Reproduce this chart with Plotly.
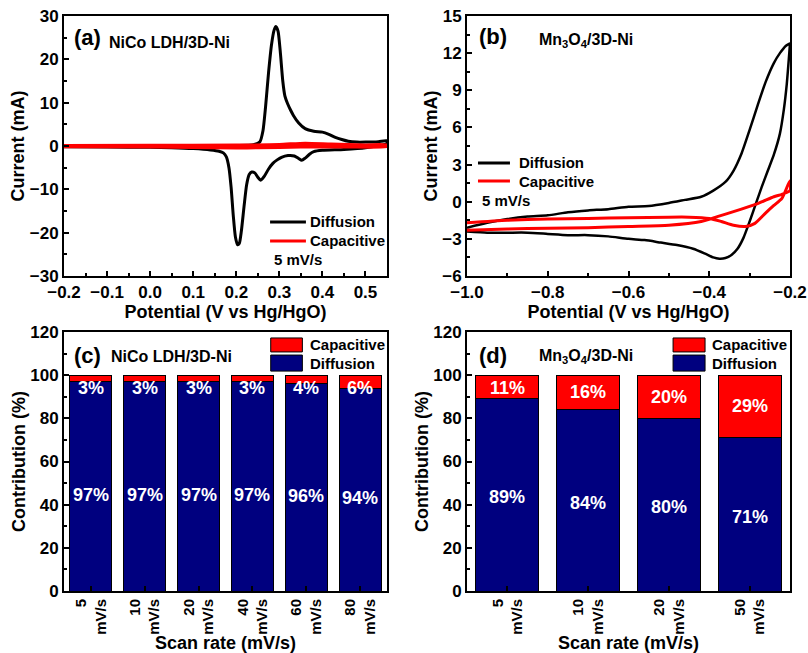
import plotly.graph_objects as go

# ---------------- data ----------------
# (a) NiCo LDH/3D-Ni, 5 mV/s
a_diff_E = [-0.20, -0.10, 0.00, 0.10, 0.20, 0.24, 0.255, 0.262, 0.268, 0.275, 0.282, 0.288, 0.292, 0.297,
            0.302, 0.308, 0.313, 0.319, 0.326, 0.333, 0.345, 0.36, 0.38, 0.40, 0.415, 0.43, 0.445, 0.46,
            0.48, 0.50, 0.53, 0.55,
            0.55, 0.50, 0.45, 0.40, 0.38, 0.37, 0.36, 0.352, 0.345, 0.335, 0.32, 0.305, 0.295, 0.285,
            0.275, 0.265, 0.257, 0.25, 0.243, 0.236, 0.23, 0.224, 0.218, 0.212, 0.207, 0.203, 0.198,
            0.193, 0.188, 0.183, 0.177, 0.17, 0.16, 0.14, 0.10, 0.05, 0.0, -0.1, -0.2]
a_diff_I = [-0.1, -0.1, -0.1, 0.0, 0.1, 0.3, 1.0, 3.5, 9.0, 17.0, 23.5, 26.8, 27.6, 26.5,
            22.0, 15.0, 11.5, 9.8, 8.3, 7.0, 5.3, 4.0, 3.4, 3.2, 2.7, 2.0, 1.5, 1.1,
            0.9, 0.9, 1.0, 1.2,
            0.6, -0.4, -0.8, -1.0, -1.3, -1.9, -2.8, -3.3, -2.9, -2.3, -2.2, -2.6, -3.2, -4.0,
            -5.3, -7.0, -7.9, -7.2, -6.2, -6.0, -6.6, -9.0, -14.0, -19.5, -22.5, -22.8, -21.0,
            -16.0, -9.5, -5.0, -2.5, -1.6, -1.2, -0.9, -0.6, -0.4, -0.3, -0.25, -0.2]
a_cap_E = [-0.2, 0.0, 0.2, 0.3, 0.36, 0.42, 0.5, 0.55,
           0.55, 0.45, 0.35, 0.25, 0.2, 0.1, 0.0, -0.2]
a_cap_I = [0.05, 0.1, 0.15, 0.3, 0.6, 0.4, 0.2, 0.2,
           -0.1, -0.15, -0.2, -0.35, -0.4, -0.3, -0.2, -0.1]

# (b) Mn3O4/3D-Ni, 5 mV/s
b_diff_E = [-1.0, -0.95, -0.9, -0.85, -0.8, -0.75, -0.7, -0.65, -0.6, -0.55, -0.5, -0.46, -0.42,
            -0.39, -0.36, -0.34, -0.32, -0.3, -0.28, -0.26, -0.24, -0.225, -0.21, -0.2,
            -0.2, -0.203, -0.208, -0.215, -0.225, -0.24, -0.255, -0.27, -0.285, -0.3, -0.315,
            -0.33, -0.345, -0.36, -0.375, -0.39, -0.41, -0.44, -0.48, -0.52, -0.56, -0.6, -0.65,
            -0.7, -0.75, -0.8, -0.85, -0.9, -0.95, -1.0]
b_diff_I = [-2.1, -1.7, -1.4, -1.2, -1.1, -0.85, -0.7, -0.6, -0.4, -0.35, -0.1, 0.15, 0.4,
            0.9, 1.6, 2.5, 3.9, 5.8, 7.8, 9.7, 11.2, 12.0, 12.6, 12.8,
            12.8, 11.5, 9.5, 7.5, 5.5, 3.8, 2.5, 1.2, -0.2, -1.6, -2.9,
            -3.8, -4.3, -4.55, -4.6, -4.5, -4.2, -3.8, -3.5, -3.3, -3.1, -3.0, -2.8,
            -2.7, -2.7, -2.6, -2.5, -2.5, -2.5, -2.4]
b_cap_E = [-1.0, -0.9, -0.8, -0.7, -0.6, -0.5, -0.45, -0.4, -0.37, -0.34, -0.31, -0.287, -0.26,
           -0.24, -0.22, -0.2,
           -0.2, -0.22, -0.24, -0.28, -0.34, -0.38, -0.42, -0.5, -0.6, -0.7, -0.8, -0.9, -1.0]
b_cap_I = [-1.7, -1.5, -1.4, -1.35, -1.3, -1.25, -1.25, -1.35, -1.6, -1.9, -2.0, -1.75, -0.9,
           -0.3, 0.27, 1.7,
           0.9, 0.6, 0.4, -0.15, -0.8, -1.2, -1.6, -1.9, -2.0, -2.1, -2.15, -2.2, -2.3]

# (c) NiCo LDH/3D-Ni contributions
c_rates = ["5<br>mV/s", "10<br>mV/s", "20<br>mV/s", "40<br>mV/s", "60<br>mV/s", "80<br>mV/s"]
c_diff = [97, 97, 97, 97, 96, 94]
c_cap = [3, 3, 3, 3, 4, 6]

# (d) Mn3O4/3D-Ni contributions
d_rates = ["5<br>mV/s", "10<br>mV/s", "20<br>mV/s", "50<br>mV/s"]
d_diff = [89, 84, 80, 71]
d_cap = [11, 16, 20, 29]

# ---------------- styles ----------------
FONT = "Liberation Sans, Arial, sans-serif"
NAVY = "#00007F"
RED = "#FF0000"

fig = go.Figure()

fig.add_trace(go.Scatter(x=a_diff_E, y=a_diff_I, mode="lines", name="Diffusion",
                         line=dict(color="black", width=3, shape="spline", smoothing=0.6),
                         xaxis="x", yaxis="y", showlegend=False))
fig.add_trace(go.Scatter(x=a_cap_E, y=a_cap_I, mode="lines", name="Capacitive",
                         line=dict(color=RED, width=3.5, shape="spline", smoothing=0.6),
                         xaxis="x", yaxis="y", showlegend=False))
fig.add_trace(go.Scatter(x=b_diff_E, y=b_diff_I, mode="lines", name="Diffusion",
                         line=dict(color="black", width=2.5, shape="spline", smoothing=0.6),
                         xaxis="x2", yaxis="y2", showlegend=False))
fig.add_trace(go.Scatter(x=b_cap_E, y=b_cap_I, mode="lines", name="Capacitive",
                         line=dict(color=RED, width=3, shape="spline", smoothing=0.6),
                         xaxis="x2", yaxis="y2", showlegend=False))

for rates, diff, cap, xa, ya in [(c_rates, c_diff, c_cap, "x3", "y3"),
                                 (d_rates, d_diff, d_cap, "x4", "y4")]:
    fig.add_trace(go.Bar(x=rates, y=diff, name="Diffusion", marker=dict(color=NAVY, line=dict(color="black", width=1)),
                         width=0.78, xaxis=xa, yaxis=ya, showlegend=False))
    fig.add_trace(go.Bar(x=rates, y=cap, name="Capacitive", marker=dict(color=RED, line=dict(color="black", width=1)),
                         width=0.78, xaxis=xa, yaxis=ya, showlegend=False))

# geometry
XA = [64 / 808, 387 / 808]
XB = [467 / 808, 790 / 808]
YT = [1 - 276 / 653, 1 - 16 / 653]
YB = [1 - 591 / 653, 1 - 332 / 653]

tickfont = dict(family=FONT, size=17, color="black", weight="bold")
titlefont = dict(family=FONT, size=18, color="black", weight="bold")


def ax(**kw):
    base = dict(showline=True, mirror=True, linewidth=2, linecolor="black", ticks="inside",
                ticklen=5, tickwidth=1.5, tickcolor="black", showgrid=False, zeroline=False,
                tickfont=tickfont, automargin=False)
    base.update(kw)
    return base


fig.update_layout(
    width=808, height=653, margin=dict(l=0, r=0, t=0, b=0, autoexpand=False),
    paper_bgcolor="white", plot_bgcolor="white", barmode="stack", showlegend=False,
    font=dict(family=FONT, color="black"),
    xaxis=ax(domain=XA, anchor="y", range=[-0.2, 0.55], tick0=-0.2, dtick=0.1, tickformat=".1f",
             minor=dict(dtick=0.05, ticks="inside", ticklen=3, tickcolor="black"),
             title=dict(text="Potential (V vs Hg/HgO)", font=titlefont, standoff=2)),
    yaxis=ax(domain=YT, anchor="x", range=[-30, 30], dtick=10,
             minor=dict(dtick=5, ticks="inside", ticklen=3, tickcolor="black"),
             title=dict(text="Current (mA)", font=titlefont, standoff=0)),
    xaxis2=ax(domain=XB, anchor="y2", range=[-1.0, -0.2], tick0=-1.0, dtick=0.2, tickformat=".1f",
              minor=dict(dtick=0.1, ticks="inside", ticklen=3, tickcolor="black"),
              title=dict(text="Potential (V vs Hg/HgO)", font=titlefont, standoff=2)),
    yaxis2=ax(domain=YT, anchor="x2", range=[-6, 15], dtick=3,
              minor=dict(dtick=1.5, ticks="inside", ticklen=3, tickcolor="black"),
              title=dict(text="Current (mA)", font=titlefont, standoff=0)),
    xaxis3=ax(domain=XA, anchor="y3", type="category", tickangle=-90,
              tickfont=dict(family=FONT, size=15, color="black", weight="bold"),
              title=dict(text="Scan rate (mV/s)", font=titlefont, standoff=0)),
    yaxis3=ax(domain=YB, anchor="x3", range=[0, 120], dtick=20,
              minor=dict(dtick=10, ticks="inside", ticklen=3, tickcolor="black"),
              title=dict(text="Contribution (%)", font=titlefont, standoff=0)),
    xaxis4=ax(domain=XB, anchor="y4", type="category", tickangle=-90,
              tickfont=dict(family=FONT, size=15, color="black", weight="bold"),
              title=dict(text="Scan rate (mV/s)", font=titlefont, standoff=0)),
    yaxis4=ax(domain=YB, anchor="x4", range=[0, 120], dtick=20,
              minor=dict(dtick=10, ticks="inside", ticklen=3, tickcolor="black"),
              title=dict(text="Contribution (%)", font=titlefont, standoff=0)),
)

ann = []
shapes = []


def txt(text, x, y, xref, yref, size, xanchor="left", color="black"):
    ann.append(dict(text=text, x=x, y=y, xref=xref, yref=yref, showarrow=False,
                    xanchor=xanchor, yanchor="middle",
                    font=dict(family=FONT, size=size, color=color, weight="bold")))


# panel labels
txt("(a)", 0.025, 0.917, "x domain", "y domain", 22)
txt("NiCo LDH/3D-Ni", 0.133, 0.898, "x domain", "y domain", 16)
txt("(b)", 0.031, 0.923, "x2 domain", "y2 domain", 22)
txt("Mn<sub>3</sub>O<sub>4</sub>/3D-Ni", 0.217, 0.904, "x2 domain", "y2 domain", 16)
txt("(c)", 0.025, 0.911, "x3 domain", "y3 domain", 22)
txt("NiCo LDH/3D-Ni", 0.138, 0.905, "x3 domain", "y3 domain", 16)
txt("(d)", 0.031, 0.911, "x4 domain", "y4 domain", 22)
txt("Mn<sub>3</sub>O<sub>4</sub>/3D-Ni", 0.217, 0.905, "x4 domain", "y4 domain", 16)

# line legends
for xs, (x0, x1, xt), (y1, y2, y3) in [("", (0.638, 0.749, 0.755), (0.208, 0.135, 0.062)),
                                       ("2", (0.034, 0.133, 0.155), (0.435, 0.365, 0.292))]:
    xr = "x%s domain" % xs
    yr = "y%s domain" % xs
    shapes.append(dict(type="line", xref=xr, yref=yr, x0=x0, x1=x1, y0=y1, y1=y1,
                       line=dict(color="black", width=3)))
    shapes.append(dict(type="line", xref=xr, yref=yr, x0=x0, x1=x1, y0=y2, y1=y2,
                       line=dict(color=RED, width=3)))
    txt("Diffusion", xt, y1, xr, yr, 15)
    txt("Capacitive", xt, y2, xr, yr, 15)
    txt("5 mV/s", x0 + 0.006, y3, xr, yr, 15)

# bar legends
for xs, (x0, x1, xt) in [("3", (0.64, 0.738, 0.754)), ("4", (0.638, 0.737, 0.752))]:
    xr = "x%s domain" % xs
    yr = "y%s domain" % xs
    shapes.append(dict(type="rect", xref=xr, yref=yr, x0=x0, x1=x1, y0=0.923, y1=0.977,
                       fillcolor=RED, line=dict(color="black", width=1)))
    shapes.append(dict(type="rect", xref=xr, yref=yr, x0=x0, x1=x1, y0=0.849, y1=0.911,
                       fillcolor=NAVY, line=dict(color="black", width=1)))
    txt("Capacitive", xt, 0.952, xr, yr, 15)
    txt("Diffusion", xt, 0.880, xr, yr, 15)

# percentage labels (label offset below the bar midpoint differs per panel)
for rates, diff, cap, xa, ya, off in [(c_rates, c_diff, c_cap, "x3", "y3", 4.0),
                                      (d_rates, d_diff, d_cap, "x4", "y4", 1.0)]:
    for r, dv, cv in zip(rates, diff, cap):
        txt("%d%%" % dv, r, dv / 2 - off, xa, ya, 18, xanchor="center", color="white")
        txt("%d%%" % cv, r, min(dv + cv / 2, 94.0), xa, ya, 18, xanchor="center", color="white")

fig.update_layout(annotations=ann, shapes=shapes)
fig.write_html("out.html")
